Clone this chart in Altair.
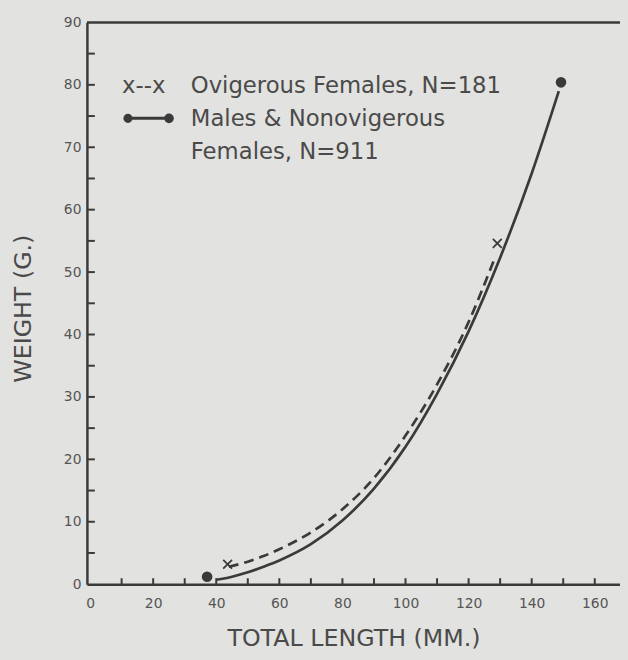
import altair as alt
import pandas as pd

# ---- values ----
males_len = [40, 45, 50, 55, 60, 70, 80, 90, 100, 110, 120, 130, 140, 148.6]
males_wt = [0.7, 1.2, 1.9, 2.8, 3.8, 6.4, 10.2, 15.3, 22.0, 30.5, 40.5, 52.3, 65.8, 79.0]
males_pts_len = [37.1, 149.3]
males_pts_wt = [1.2, 80.4]

ovig_len = [44, 50, 55, 60, 70, 80, 90, 100, 110, 120, 128.5]
ovig_wt = [2.8, 3.6, 4.5, 5.6, 8.3, 12.0, 17.0, 23.8, 32.0, 42.0, 52.5]
ovig_pts_len = [43.6, 129.1]
ovig_pts_wt = [3.2, 54.6]

x_labels = [0, 20, 40, 60, 80, 100, 120, 140, 160]
x_ticks = [10, 20, 30, 40, 50, 60, 70, 80, 90, 100, 110, 120, 130, 140, 150, 160]
y_labels = [0, 10, 20, 30, 40, 50, 60, 70, 80, 90]
y_ticks = [5, 10, 15, 20, 25, 30, 35, 40, 45, 50, 55, 60, 65, 70, 75, 80, 85]

x_title = "TOTAL LENGTH (MM.)"
y_title = "WEIGHT (G.)"
legend_ovig_glyph = "x--x"
legend_ovig = "Ovigerous Females, N=181"
legend_males_1 = "Males & Nonovigerous"
legend_males_2 = "Females, N=911"

# ---- style ----
W, H = 539, 568
INK = "#3a3a3a"
TXT = "#4a4a4a"
BG = "#e2e2e0"
FONT = "DejaVu Sans"

# page background (so the 8px page margin matches the chart background)
try:
    from altair.utils import html as _ahtml

    _orig_tpl = _ahtml.TEMPLATES["standard"]

    class _BgTemplate:
        def render(self, *a, **k):
            out = _orig_tpl.render(*a, **k)
            return out.replace(
                "<style>", "<style>\n    body { background: %s; }" % BG, 1
            )

    _ahtml.TEMPLATES["standard"] = _BgTemplate()
except Exception:
    pass

xscale = alt.Scale(domain=[-1, 168], nice=False, zero=False)
yscale = alt.Scale(domain=[0, 90], nice=False, zero=False)

xaxis = alt.Axis(
    values=x_labels, ticks=False, tickSize=0, grid=False, labelFlush=False,
    labelFontSize=14, labelColor="#555555", labelFont=FONT, labelPadding=13,
    domainColor=INK, domainWidth=2.5,
    title=x_title, titleFont=FONT, titleFontSize=24, titleFontWeight="normal",
    titleColor=TXT, titleY=62, titleBaseline="alphabetic",
)
yaxis = alt.Axis(
    values=y_labels, ticks=False, tickSize=0, grid=False, labelFlush=False,
    labelFontSize=14, labelColor="#555555", labelFont=FONT, labelPadding=6,
    domainColor=INK, domainWidth=2.5,
    title=y_title, titleFont=FONT, titleFontSize=24, titleFontWeight="normal",
    titleColor=TXT, titleAngle=270, titleX=-57, titleY=289, titleAlign="center",
    titleBaseline="alphabetic",
)

X = alt.X("L:Q", scale=xscale, axis=xaxis)
Y = alt.Y("W:Q", scale=yscale, axis=yaxis)

males_df = pd.DataFrame({"L": males_len, "W": males_wt})
males_pts = pd.DataFrame({"L": males_pts_len, "W": males_pts_wt})
ovig_df = pd.DataFrame({"L": ovig_len, "W": ovig_wt})
ovig_pts = pd.DataFrame({"L": ovig_pts_len, "W": ovig_pts_wt})
xt_df = pd.DataFrame({"L": x_ticks})
yt_df = pd.DataFrame({"W": y_ticks})

males_line = alt.Chart(males_df).mark_line(
    color=INK, strokeWidth=2.7, interpolate="monotone"
).encode(x=X, y=Y)
males_dots = alt.Chart(males_pts).mark_point(
    shape="circle", filled=True, color=INK, size=115, opacity=1
).encode(x=X, y=Y)

ovig_line = alt.Chart(ovig_df).mark_line(
    color=INK, strokeWidth=2.7, strokeDash=[10, 6], interpolate="monotone"
).encode(x=X, y=Y)
ovig_marks = alt.Chart(ovig_pts).mark_point(
    shape="M-1,-1L1,1M-1,1L1,-1", filled=False, color=INK, size=80,
    strokeWidth=1.8, opacity=1
).encode(x=X, y=Y)

# inward ticks
xticks = alt.Chart(xt_df).mark_rule(color=INK, strokeWidth=2).encode(
    x=X, y=alt.value(H), y2=alt.value(H - 6)
)
yticks = alt.Chart(yt_df).mark_rule(color=INK, strokeWidth=2).encode(
    y=Y, x=alt.value(0), x2=alt.value(8)
)

# top frame line
top_line = alt.Chart(pd.DataFrame({"a": [0]})).mark_rule(
    color=INK, strokeWidth=2.5
).encode(x=alt.value(0), x2=alt.value(W), y=alt.value(0))


def label(text, x, y):
    return alt.Chart(pd.DataFrame({"t": [text]})).mark_text(
        align="left", baseline="alphabetic", font=FONT, fontSize=23, color=TXT
    ).encode(text="t:N", x=alt.value(x), y=alt.value(y))


leg_glyph = label(legend_ovig_glyph, 35.5, 71)
leg_ovig = label(legend_ovig, 105, 71)
leg_m1 = label(legend_males_1, 105, 105)
leg_m2 = label(legend_males_2, 105, 138)

one = pd.DataFrame({"a": [0]})
leg_rule = alt.Chart(one).mark_rule(color=INK, strokeWidth=3).encode(
    x=alt.value(41.5), x2=alt.value(83), y=alt.value(97)
)
leg_dot1 = alt.Chart(one).mark_point(
    shape="circle", filled=True, color=INK, size=85, opacity=1
).encode(x=alt.value(41.5), y=alt.value(97))
leg_dot2 = alt.Chart(one).mark_point(
    shape="circle", filled=True, color=INK, size=95, opacity=1
).encode(x=alt.value(83), y=alt.value(97))

chart = alt.layer(
    xticks, yticks, top_line,
    males_line, ovig_line, males_dots, ovig_marks,
    leg_glyph, leg_ovig, leg_m1, leg_m2, leg_rule, leg_dot1, leg_dot2,
).properties(
    width=W, height=H,
    autosize=alt.AutoSizeParams(type="none"),
    padding={"left": 79.8, "top": 11, "right": 0, "bottom": 65},
    background=BG,
).configure_view(stroke=None)

chart.save("out.html", embed_options={"renderer": "svg", "actions": False})
